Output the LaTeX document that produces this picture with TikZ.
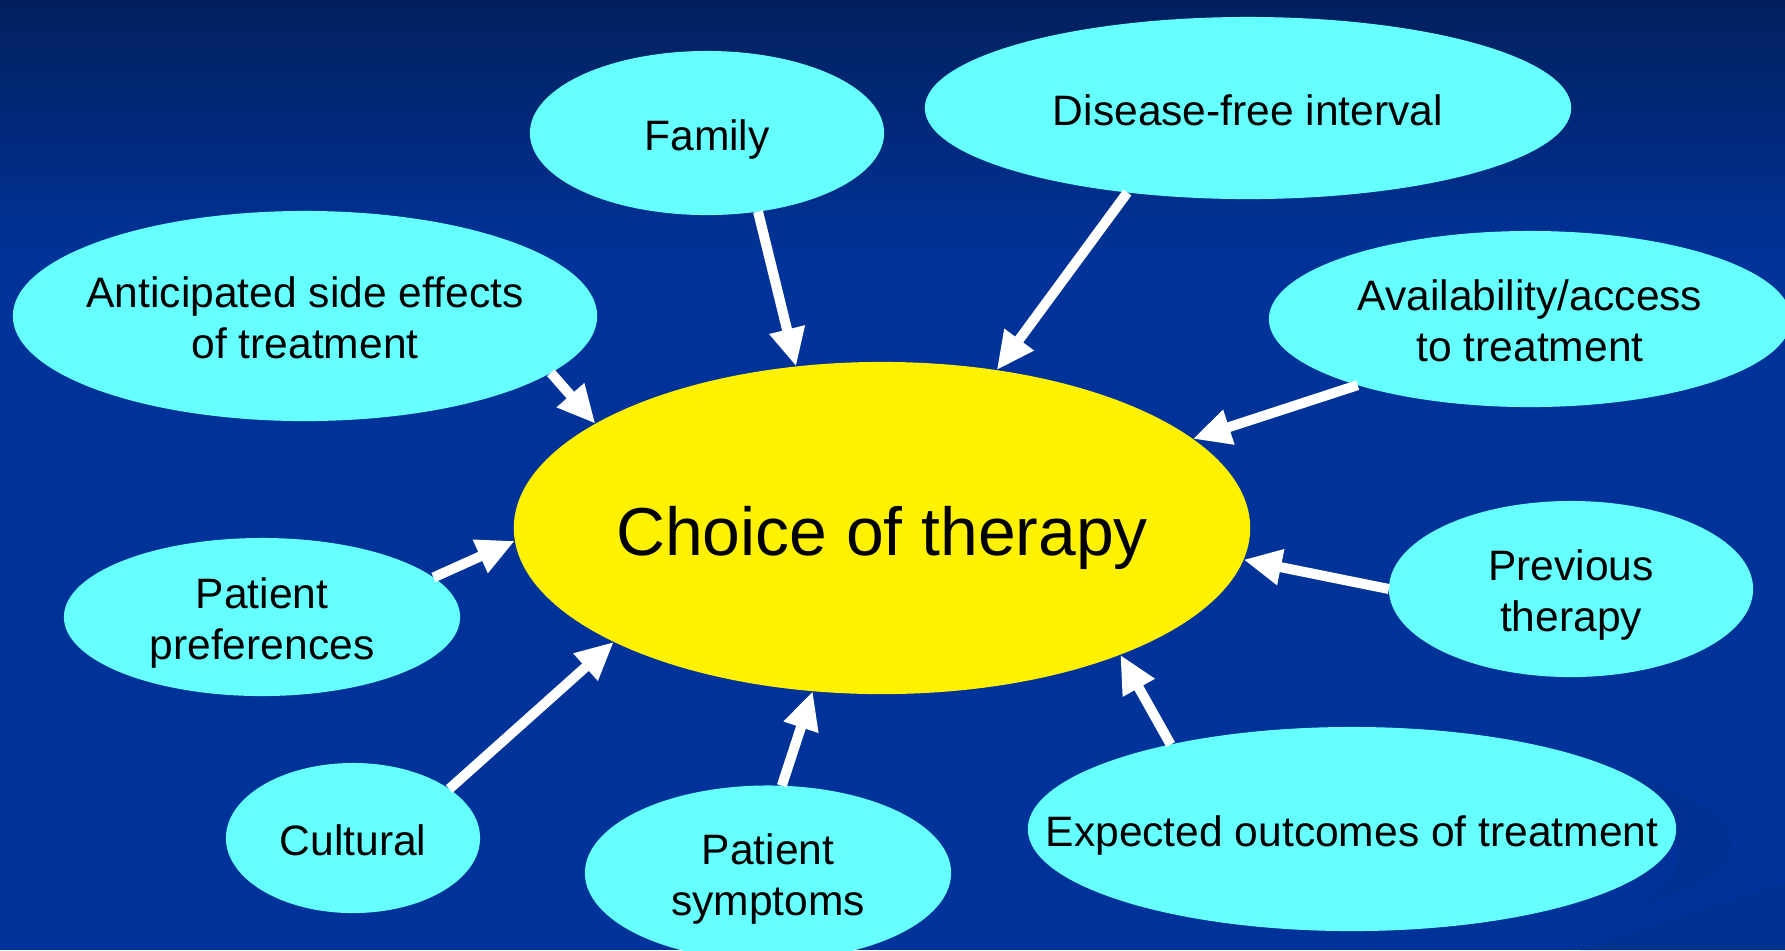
\documentclass[tikz,border=0pt]{standalone}
\usepackage{fontspec}
\setmainfont{Liberation Sans}
\usetikzlibrary{arrows.meta,shapes.geometric}
\definecolor{bgtop}{HTML}{02205E}
\definecolor{bgblue}{HTML}{003399}
\definecolor{swoosh}{HTML}{003090}
\definecolor{oval}{HTML}{66FFFF}
\newcommand{\ovaltext}[1]{\makebox[0pt]{\raisebox{-0.17em}[\height][\depth]{\begin{tabular}{@{}c@{}}#1\end{tabular}}}}

\begin{document}
\begin{tikzpicture}[line cap=round,line join=round,x=0.01cm,y=-0.01cm,
  factor/.style={ellipse,fill=oval,inner sep=0pt,outer sep=0pt,font=\fontsize{12.1}{14.5}\selectfont},
  hub/.style={ellipse,fill=yellow,inner sep=0pt,outer sep=0pt,font=\fontsize{19.3}{23}\selectfont},
  feed/.style={white,line width=0.1cm,line cap=butt,-{Triangle[length=3.8mm,width=3.4mm]}}]
\useasboundingbox (0,0) rectangle (1785,950);
\clip (0,0) rectangle (1785,950);
% background
\fill[bgblue] (0,0) rectangle (1785,950);
\shade[top color=bgtop,bottom color=bgblue] (0,0) rectangle (1785,260);
\fill[swoosh] (1450,745) .. controls (1700,765) and (1830,850) .. (1640,905)
  .. controls (1730,850) and (1660,785) .. (1450,745);
\fill[swoosh] (1580,950) -- (1785,883) -- (1785,950) -- cycle;
% ovals
\node[hub,minimum width=7.36cm,minimum height=3.32cm] (main) at (882,528) {\ovaltext{Choice of therapy}};
\node[factor,minimum width=3.54cm,minimum height=1.64cm] (fam) at (707,133) {\ovaltext{Family}};
\node[factor,minimum width=6.46cm,minimum height=1.82cm] (dfi) at (1248,108) {\ovaltext{Disease-free interval}};
\node[factor,minimum width=5.84cm,minimum height=2.10cm] (side) at (305,316) {\ovaltext{Anticipated side effects\\of treatment}};
\node[factor,minimum width=5.22cm,minimum height=1.76cm] (avail) at (1530,319) {\ovaltext{Availability/access\\to treatment}};
\node[factor,minimum width=3.96cm,minimum height=1.58cm] (pref) at (262,617) {\ovaltext{Patient\\preferences}};
\node[factor,minimum width=3.64cm,minimum height=1.76cm] (prev) at (1571,589) {\ovaltext{Previous\\therapy}};
\node[factor,minimum width=2.54cm,minimum height=1.50cm] (cult) at (353,838) {\ovaltext{Cultural}};
\node[factor,minimum width=3.66cm,minimum height=1.75cm] (symp) at (768,873) {\ovaltext{Patient\\symptoms}};
\node[factor,minimum width=6.48cm,minimum height=2.04cm] (outc) at (1352,829) {\ovaltext{Expected outcomes of treatment}};
% arrows
\draw[feed] (fam.-57) -- (main.118);
\draw[feed] (dfi.215) -- (main.54);
\draw[feed] (side.-13) -- (main.160);
\draw[feed] (avail.201) -- (main.16);
\draw[feed] (pref.13) -- (main.182.5);
\draw[feed] (prev.180) -- (main.-5);
\draw[feed] (cult.27) -- (main.203);
\draw[feed] (symp.81) -- (main.247);
\draw[feed] (outc.155) -- (main.-28);
\end{tikzpicture}
\end{document}
